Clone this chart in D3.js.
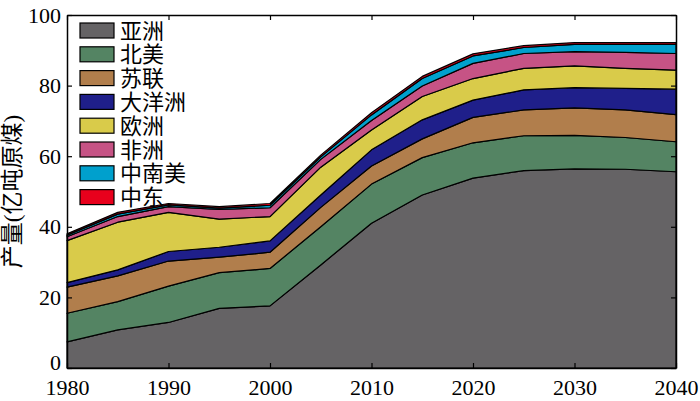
<!DOCTYPE html>
<html>
<head>
<meta charset="utf-8">
<script src="https://cdn.jsdelivr.net/npm/d3@7"></script>
<style>
  body { margin: 0; background: #fff; }
  svg text { font-family: "Liberation Serif", "Noto Sans CJK SC", serif; }
</style>
</head>
<body>
<svg id="chart" width="700" height="401"></svg>
<script>
// years on the x axis
const years = [1980, 1985, 1990, 1995, 2000, 2005, 2010, 2015, 2020, 2025, 2030, 2035, 2040];

// production per region, 亿吨原煤
const asia     = [7.4, 10.8, 12.9, 16.9, 17.6, 29.2, 41.0, 49.0, 53.8, 55.9, 56.4, 56.3, 55.6];
const nAmerica = [8.1, 8.0, 10.3, 10.1, 10.6, 10.8, 11.1, 10.6, 10.0, 9.9, 9.5, 9.0, 8.5];
const ussr     = [7.4, 7.3, 7.1, 4.4, 4.6, 5.5, 5.1, 5.3, 7.2, 7.3, 7.8, 7.8, 7.7];
const oceania  = [1.3, 1.7, 2.7, 2.8, 3.2, 3.5, 4.6, 5.4, 4.9, 5.7, 5.7, 6.1, 7.2];
const europe   = [11.9, 13.5, 11.1, 8.0, 6.9, 7.9, 5.6, 6.6, 6.1, 6.1, 6.2, 5.7, 5.4];
const africa   = [1.1, 1.6, 1.6, 2.7, 2.5, 2.2, 2.7, 3.0, 4.3, 4.2, 4.0, 4.5, 4.7];
const csAmerica= [0.4, 0.7, 0.5, 0.4, 0.7, 0.7, 1.6, 2.1, 2.1, 1.7, 2.1, 2.3, 2.6];
const midEast  = [0.4, 0.5, 0.4, 0.4, 0.5, 0.5, 0.6, 0.6, 0.6, 0.5, 0.5, 0.5, 0.5];

const names  = ['亚洲', '北美', '苏联', '大洋洲', '欧洲', '非洲', '中南美', '中东'];
const series = [asia, nAmerica, ussr, oceania, europe, africa, csAmerica, midEast];
const colors = ['#656365', '#548463', '#b17e4c', '#1f1f8a', '#d9cb4a', '#c65385', '#00a0cd', '#e8001c'];

const xTicks = [1980, 1990, 2000, 2010, 2020, 2030, 2040];
const yTicks = [0, 20, 40, 60, 80, 100];

const margin = { top: 15, right: 24, bottom: 33, left: 67 };
const width = 700, height = 401;

const svg = d3.select('#chart');

const x = d3.scaleLinear().domain([1980, 2040]).range([margin.left, width - margin.right]);
const y = d3.scaleLinear().domain([0, 100]).range([height - margin.bottom, margin.top]);

// build rows for d3.stack
const rows = years.map((yr, i) => {
  let r = { year: yr };
  names.forEach((n, k) => { r[n] = series[k][i]; });
  return r;
});

const stacked = d3.stack().keys(names)(rows);

const area = d3.area()
  .x(d => x(d.data.year))
  .y0(d => y(d[0]))
  .y1(d => y(d[1]));

svg.append('g')
  .selectAll('path')
  .data(stacked)
  .join('path')
    .attr('d', area)
    .attr('fill', (d, i) => colors[i])
    .attr('stroke', '#000')
    .attr('stroke-width', 1.2)
    .attr('stroke-linejoin', 'round');

// axes with inward ticks, box around plot
const fs = 22;
svg.append('g')
  .attr('transform', `translate(0,${y(0)})`)
  .call(d3.axisBottom(x).tickValues(xTicks).tickFormat(d3.format('d')).tickSizeInner(-5).tickSizeOuter(0).tickPadding(11))
  .call(g => g.selectAll('text').attr('font-size', fs).attr('fill', '#000'));

svg.append('g')
  .attr('transform', `translate(${x(1980)},0)`)
  .call(d3.axisLeft(y).tickValues(yTicks).tickSizeInner(-5).tickSizeOuter(0).tickPadding(6))
  .call(g => g.selectAll('text').attr('font-size', fs).attr('fill', '#000')
    .attr('dy', d => d === 0 ? '0.08em' : '0.32em'));

svg.append('g')
  .attr('transform', `translate(0,${y(100)})`)
  .call(d3.axisTop(x).tickValues(xTicks).tickFormat('').tickSizeInner(-5).tickSizeOuter(0));

svg.append('g')
  .attr('transform', `translate(${x(2040)},0)`)
  .call(d3.axisRight(y).tickValues(yTicks).tickFormat('').tickSizeInner(-5).tickSizeOuter(0));

svg.selectAll('.domain').attr('stroke', '#000').attr('stroke-width', 1.5);
svg.selectAll('.tick line').attr('stroke', '#000').attr('stroke-width', 1.2);

// y label
svg.append('text')
  .attr('transform', `translate(20,${(y(0) + y(100)) / 2}) rotate(-90)`)
  .attr('text-anchor', 'middle')
  .attr('font-size', 23)
  .text('产量(亿吨原煤)');

// legend
const legend = svg.append('g').attr('transform', 'translate(80,23)');
const item = legend.selectAll('g')
  .data(names)
  .join('g')
    .attr('transform', (d, i) => `translate(0,${i * 23.8})`);

item.append('rect')
  .attr('width', 34).attr('height', 15)
  .attr('fill', (d, i) => colors[i])
  .attr('stroke', '#000').attr('stroke-width', 1.2);

item.append('text')
  .attr('x', 40).attr('y', 15.5)
  .attr('font-size', 22)
  .text(d => d);
</script>
</body>
</html>
